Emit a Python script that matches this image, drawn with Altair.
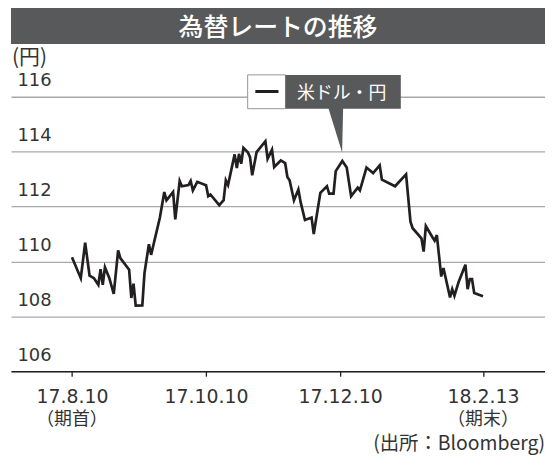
import datetime
import altair as alt
import pandas as pd

# ---- data ----
START = datetime.date(2017, 8, 10)
day_offsets = [0, 4, 6, 8, 10, 12, 13, 14, 15, 17, 19, 21, 22, 26, 27, 28, 29, 32, 33, 35,
               36, 40, 42, 43, 46, 47, 49, 50, 53, 54, 55, 57, 61, 62, 63, 67, 69, 70, 71, 74,
               75, 76, 77, 78, 80, 81, 82, 84, 88, 89, 91, 92, 95, 97, 98, 99, 101, 103, 104, 106,
               109, 110, 113, 116, 117, 119, 120, 123, 125, 127, 130, 131, 134, 137, 140, 141, 147, 152, 154, 155,
               159, 160, 161, 164, 165, 166, 168, 169, 172, 173, 174, 176, 179, 180, 181, 182, 183, 187]
usd_jpy = [110.15, 109.39, 110.68, 109.48, 109.39, 109.15, 109.72, 109.15, 109.79, 109.39,
           108.82, 110.40, 110.12, 109.70, 108.67, 109.19, 108.39, 108.40, 109.58, 110.63,
           110.24, 111.60, 112.53, 112.23, 112.53, 111.53, 112.93, 112.74, 112.78, 112.93,
           112.59, 112.90, 112.78, 112.38, 112.44, 112.05, 112.23, 112.95, 112.78, 113.90,
           113.40, 113.92, 113.56, 114.14, 113.98, 113.80, 113.14, 113.98, 114.38, 113.74,
           114.07, 113.44, 113.68, 113.58, 113.08, 112.96, 112.23, 112.62, 112.17, 111.51,
           111.60, 111.00, 112.50, 112.74, 112.47, 112.47, 113.29, 113.66, 113.42, 112.38,
           112.69, 112.59, 113.42, 113.22, 113.50, 112.98, 112.74, 113.17, 111.45, 111.21,
           110.84, 110.36, 111.29, 110.88, 110.76, 110.96, 109.45, 109.76, 108.69, 108.99,
           108.75, 109.27, 109.88, 108.99, 109.36, 109.36, 108.85, 108.73]

y_ticks = [106, 108, 110, 112, 114, 116]
x_tick_dates = [(2017, 8, 10), (2017, 10, 10), (2017, 12, 10), (2018, 2, 13)]
sub_label_dates = ["2017-08-10", "2018-02-13"]
sub_labels = ["（期首）", "（期末）"]

TITLE = "為替レートの推移"
UNIT = "(円)"
SERIES = "米ドル・円"
SOURCE = "(出所：Bloomberg)"

# ---- styles ----
DARK = "#58595b"
INK = "#231f20"
TXT = "#333333"
GRID = "#a7a9ac"
NUM_FONT = "DejaVu Sans"
JP_FONT = "Noto Sans CJK JP"

W, H = 537, 276

df = pd.DataFrame({
    "date": [(START + datetime.timedelta(days=d)).isoformat() for d in day_offsets],
    "value": usd_jpy,
})
sub_df = pd.DataFrame({"date": sub_label_dates, "label": sub_labels})
one = pd.DataFrame({"k": [0]})

x_scale = alt.Scale(
    type="utc",
    domain=[alt.DateTime(year=2017, month=7, date=13, hours=6, utc=True),
            alt.DateTime(year=2018, month=3, date=13, hours=5, utc=True)],
)
y_scale = alt.Scale(domain=[106, 116], nice=False, zero=False)

x_axis = alt.Axis(
    values=[alt.DateTime(year=y, month=m, date=d, utc=True) for (y, m, d) in x_tick_dates],
    labelExpr="utcFormat(datum.value, '%y.%-m.%-d')",
    title=None, grid=False,
    domainColor=INK, domainWidth=1.5,
    tickColor=INK, tickWidth=1.3, tickSize=5,
    labelFont=NUM_FONT, labelFontSize=19, labelFontWeight=400, labelColor=TXT,
    labelBaseline="alphabetic", labelPadding=26, labelFlush=False, labelOverlap=False,
)
y_axis = alt.Axis(
    values=y_ticks, title=None, domain=False, ticks=False, tickSize=0,
    grid=True, gridColor=GRID, gridWidth=1.3,
    labelFont=NUM_FONT, labelFontSize=18, labelFontWeight=400, labelColor=TXT,
    labelAlign="left", labelBaseline="alphabetic", labelPadding=-6, labelOffset=-11,
    labelOverlap=False,
)

line = alt.Chart(df).mark_line(color=INK, strokeWidth=2.7, strokeJoin="miter").encode(
    x=alt.X("date:T", scale=x_scale, axis=x_axis),
    y=alt.Y("value:Q", scale=y_scale, axis=y_axis),
)

sub_text = alt.Chart(sub_df).mark_text(
    font=JP_FONT, fontSize=18, color=TXT, align="center", baseline="alphabetic"
).encode(x=alt.X("date:T", scale=x_scale), y=alt.value(330.5), text="label:N")

title_bar = alt.Chart(one).mark_rect(color=DARK).encode(
    x=alt.value(0), x2=alt.value(W), y=alt.value(-91), y2=alt.value(-53))
title_text = alt.Chart(one).mark_text(
    text=TITLE, font=JP_FONT, fontSize=25, fontWeight=500, color="white",
    align="center", baseline="alphabetic").encode(x=alt.value(268.5), y=alt.value(-61))

unit_text = alt.Chart(one).mark_text(
    text=UNIT, font=JP_FONT, fontSize=21, color=TXT, align="left",
    baseline="alphabetic").encode(x=alt.value(1), y=alt.value(-32.5))

legend_white = alt.Chart(one).mark_rect(fill="white", stroke="#939598", strokeWidth=1).encode(
    x=alt.value(238), x2=alt.value(276), y=alt.value(-22), y2=alt.value(12))
legend_dark = alt.Chart(one).mark_rect(color=DARK).encode(
    x=alt.value(276), x2=alt.value(392), y=alt.value(-22), y2=alt.value(12))
legend_dash = alt.Chart(one).mark_rule(color=INK, strokeWidth=3).encode(
    x=alt.value(245.7), x2=alt.value(269), y=alt.value(-5.3))
legend_text = alt.Chart(one).mark_text(
    text=SERIES, font=JP_FONT, fontSize=18, color="white", align="center",
    baseline="alphabetic").encode(x=alt.value(332.5), y=alt.value(2))
pointer = alt.Chart(one).mark_point(
    shape="M-0.341,-1.06L0.341,-1.06L0.295,1Z", size=1936, filled=True,
    color=DARK, opacity=1, strokeWidth=0).encode(x=alt.value(326.5), y=alt.value(34))

source_text = alt.Chart(one).mark_text(
    text=SOURCE, font=JP_FONT, fontSize=19.5, color=TXT, align="right",
    baseline="alphabetic").encode(x=alt.value(537), y=alt.value(355.5))

chart = alt.layer(
    line, sub_text, title_bar, title_text, unit_text,
    legend_white, legend_dark, legend_dash, legend_text, pointer, source_text,
).properties(
    width=W, height=H, autosize="none",
    padding={"left": 3, "top": 88, "right": 0, "bottom": 86},
    background="white",
).configure_view(stroke=None)

chart.save("out.html", embed_options={"renderer": "svg", "actions": False})
